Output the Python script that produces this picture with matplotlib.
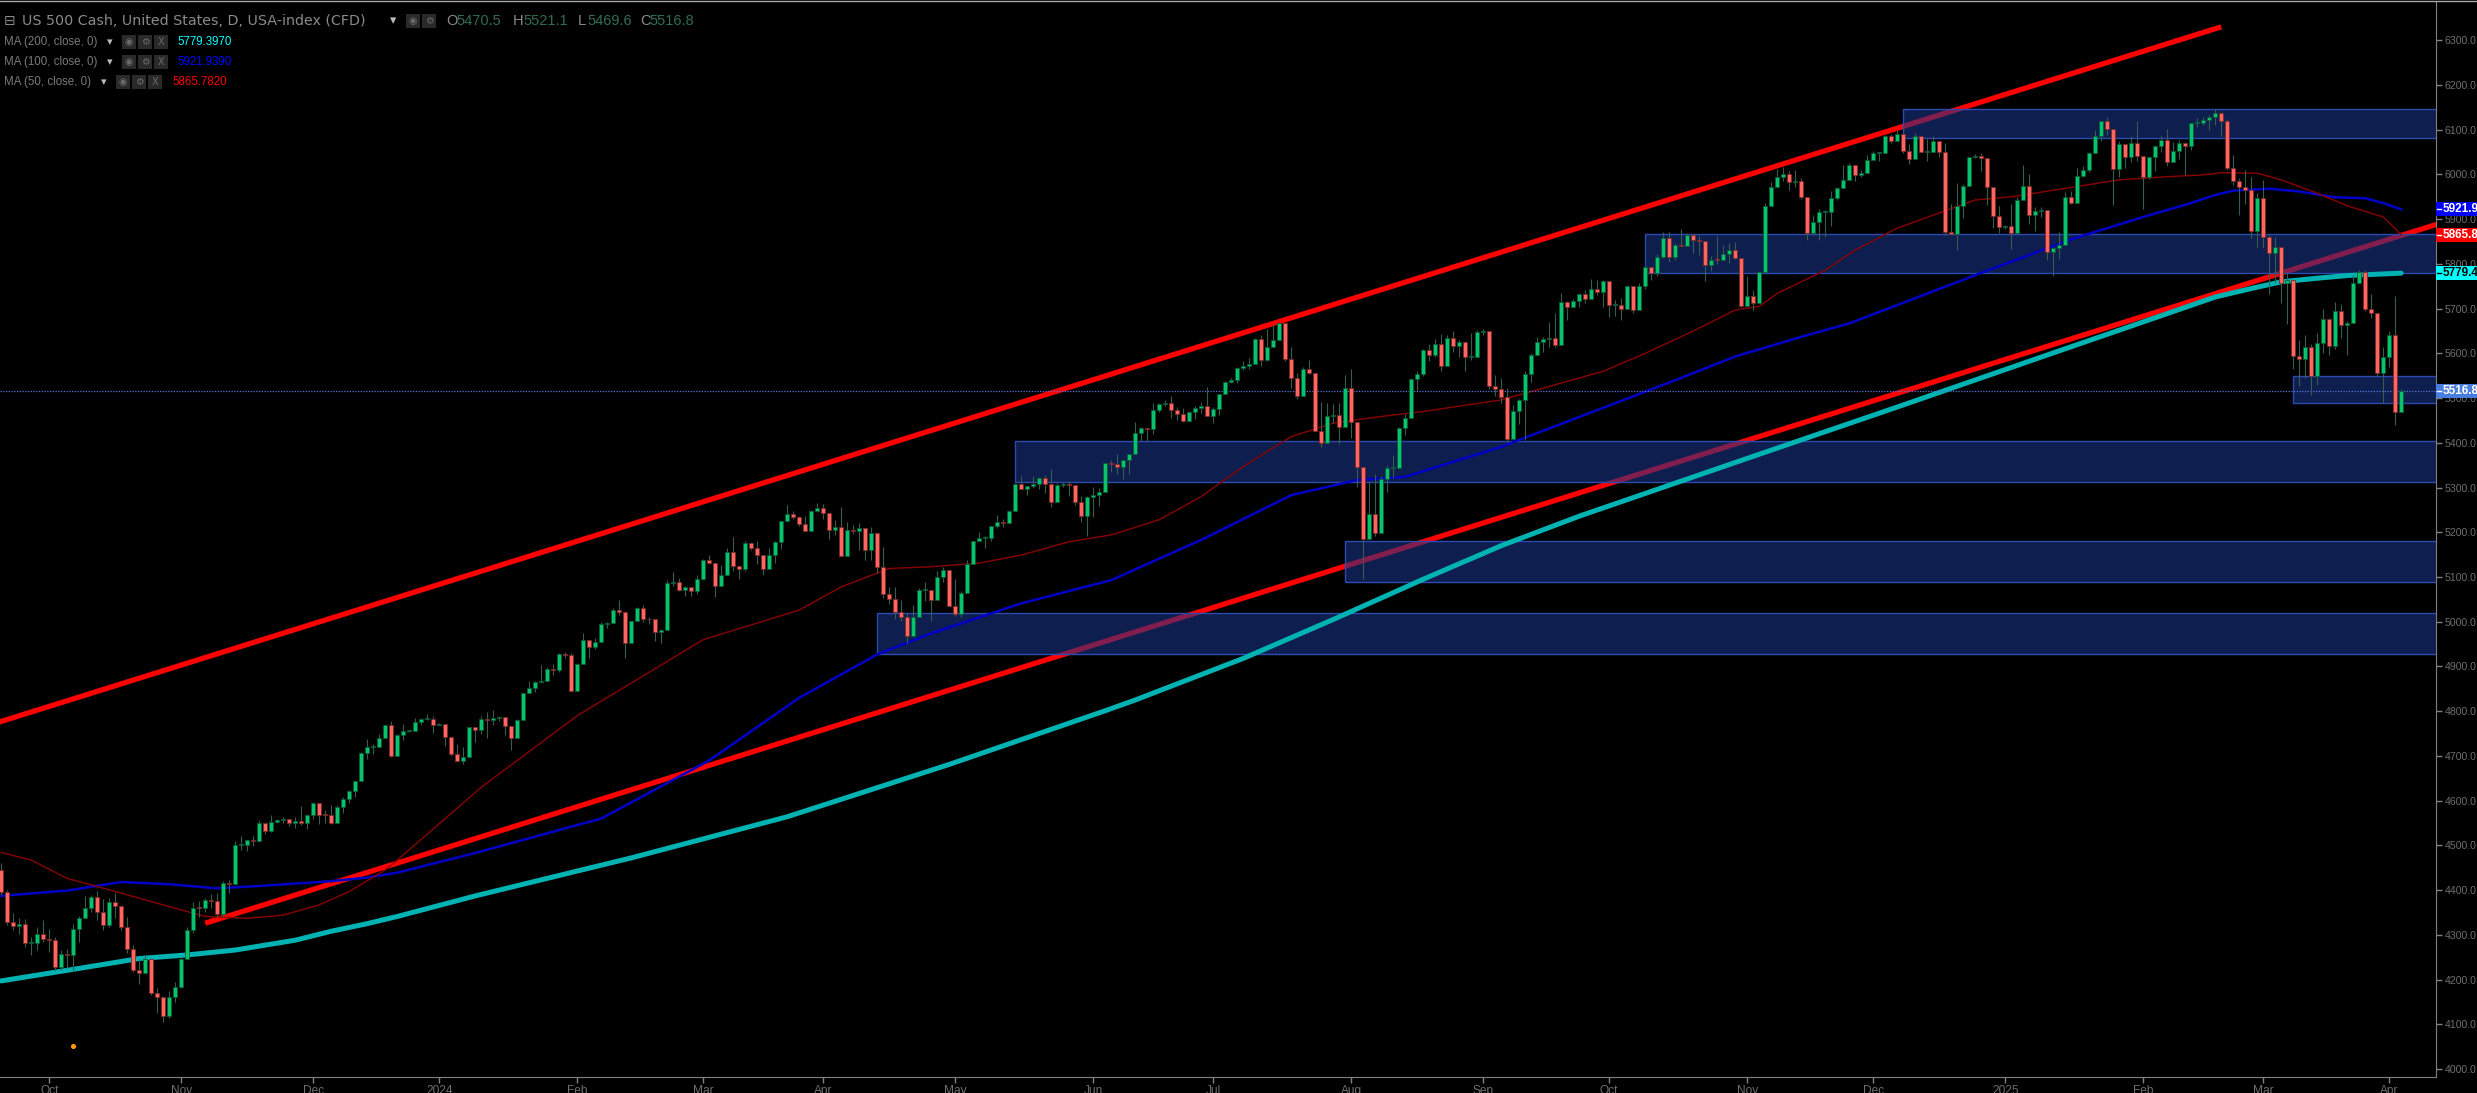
import numpy as np
import pandas as pd
import matplotlib
matplotlib.use('Agg')
import matplotlib.pyplot as plt
from matplotlib.patches import Rectangle
from matplotlib.lines import Line2D
import matplotlib.transforms as mtransforms

plt.rcParams['font.family'] = ['Liberation Sans', 'DejaVu Sans']

# daily bars as (close, high, low); each open is the previous close
first_open = 4446
sep23 = [(4395, 4461, 4390), (4328, 4400, 4322), (4320, 4348, 4310), (4325, 4337, 4302),
         (4281, 4336, 4272), (4281, 4294, 4255), (4301, 4318, 4266), (4290, 4333, 4285)]
oct23 = [(4288, 4313, 4262), (4229, 4295, 4220), (4256, 4265, 4222), (4255, 4268, 4226),
         (4313, 4324, 4220), (4337, 4341, 4283), (4359, 4386, 4338), (4385, 4388, 4352),
         (4352, 4398, 4333), (4321, 4379, 4310), (4373, 4383, 4317), (4364, 4394, 4338),
         (4317, 4367, 4310), (4269, 4340, 4260), (4221, 4277, 4217), (4215, 4245, 4189),
         (4245, 4255, 4213), (4169, 4236, 4166), (4160, 4180, 4125), (4118, 4155, 4105),
         (4162, 4175, 4115), (4183, 4194, 4150)]
nov23 = [(4247, 4250, 4180), (4310, 4318, 4245), (4361, 4374, 4305), (4359, 4375, 4340),
         (4377, 4383, 4352), (4375, 4392, 4360), (4346, 4394, 4340), (4415, 4420, 4340),
         (4413, 4423, 4393), (4500, 4510, 4440), (4500, 4522, 4490), (4511, 4513, 4487),
         (4509, 4522, 4498), (4549, 4557, 4507), (4533, 4550, 4525), (4553, 4568, 4530),
         (4556, 4560, 4550), (4559, 4563, 4550), (4550, 4558, 4543), (4555, 4563, 4538),
         (4551, 4588, 4546), (4568, 4571, 4536)]
dec23 = [(4595, 4598, 4560), (4569, 4575, 4547), (4567, 4579, 4551), (4550, 4591, 4547),
         (4586, 4590, 4563), (4604, 4609, 4572), (4622, 4623, 4594), (4644, 4646, 4609),
         (4707, 4709, 4643), (4719, 4738, 4694), (4719, 4726, 4705), (4740, 4748, 4720),
         (4768, 4769, 4743), (4699, 4778, 4697), (4746, 4748, 4717), (4755, 4772, 4736),
         (4756, 4758, 4753), (4775, 4784, 4758), (4782, 4785, 4768), (4783, 4793, 4780),
         (4770, 4789, 4751)]
jan24 = [(4771, 4773, 4768), (4743, 4754, 4722), (4705, 4729, 4700), (4689, 4726, 4687),
         (4697, 4721, 4683), (4764, 4765, 4700), (4757, 4765, 4731), (4783, 4790, 4750),
         (4780, 4798, 4740), (4784, 4802, 4769), (4786, 4790, 4778), (4766, 4782, 4747),
         (4739, 4744, 4714), (4781, 4783, 4747), (4840, 4842, 4785), (4851, 4868, 4844),
         (4865, 4867, 4842), (4868, 4903, 4865), (4894, 4898, 4870), (4891, 4906, 4882),
         (4928, 4929, 4887), (4925, 4932, 4918), (4846, 4931, 4845)]
feb24 = [(4906, 4907, 4845), (4959, 4975, 4907), (4943, 4957, 4918), (4954, 4964, 4939),
         (4995, 4999, 4969), (4998, 5000, 4987), (5027, 5030, 4998), (5022, 5048, 5016),
         (4953, 4970, 4920), (5001, 5002, 4963), (5030, 5033, 5004), (5006, 5038, 4999),
         (5005, 5010, 4995), (4976, 4993, 4956), (4982, 4983, 4953), (5087, 5094, 5038),
         (5089, 5111, 5081), (5070, 5097, 5068), (5078, 5080, 5057), (5069, 5077, 5058),
         (5096, 5104, 5061)]
mar24 = [(5137, 5141, 5094), (5131, 5149, 5128), (5079, 5127, 5056), (5105, 5127, 5094),
         (5157, 5165, 5128), (5124, 5190, 5114), (5117, 5125, 5095), (5175, 5180, 5114),
         (5165, 5179, 5160), (5150, 5180, 5130), (5117, 5136, 5104), (5149, 5164, 5143),
         (5179, 5180, 5131), (5225, 5225, 5162), (5241, 5261, 5240), (5234, 5247, 5229),
         (5218, 5236, 5215), (5203, 5236, 5202), (5248, 5249, 5213), (5254, 5265, 5246)]
apr24 = [(5243, 5264, 5229), (5205, 5209, 5184), (5211, 5228, 5194), (5147, 5256, 5146),
         (5204, 5222, 5157), (5202, 5216, 5197), (5209, 5220, 5160), (5161, 5178, 5138),
         (5199, 5211, 5139), (5123, 5175, 5108), (5061, 5168, 5052), (5051, 5077, 5039),
         (5022, 5077, 5007), (5011, 5049, 5001), (4967, 5019, 4953), (5010, 5038, 4969),
         (5070, 5076, 5027), (5072, 5089, 5047), (5048, 5057, 5001), (5100, 5114, 5073),
         (5116, 5123, 5088), (5036, 5111, 5035)]
may24 = [(5018, 5096, 5013), (5064, 5069, 5011), (5128, 5139, 5101), (5181, 5181, 5142),
         (5187, 5200, 5180), (5188, 5191, 5165), (5214, 5215, 5180), (5223, 5239, 5210),
         (5221, 5230, 5211), (5247, 5250, 5218), (5308, 5311, 5263), (5297, 5325, 5296),
         (5303, 5305, 5283), (5308, 5325, 5299), (5321, 5324, 5297), (5307, 5329, 5287),
         (5267, 5341, 5256), (5305, 5311, 5278), (5307, 5312, 5302), (5306, 5315, 5280),
         (5267, 5282, 5262), (5236, 5280, 5222), (5278, 5280, 5191)]
jun24 = [(5283, 5302, 5234), (5291, 5298, 5258), (5354, 5355, 5302), (5352, 5362, 5335),
         (5347, 5376, 5331), (5361, 5362, 5320), (5375, 5375, 5331), (5421, 5447, 5405),
         (5434, 5436, 5404), (5431, 5432, 5403), (5473, 5489, 5420), (5487, 5490, 5468),
         (5490, 5496, 5482), (5473, 5505, 5455), (5464, 5479, 5451), (5448, 5478, 5447),
         (5469, 5472, 5446), (5478, 5483, 5453), (5482, 5491, 5467), (5460, 5524, 5459)]
jul24 = [(5475, 5479, 5445), (5509, 5509, 5462), (5537, 5539, 5510), (5540, 5546, 5533),
         (5567, 5570, 5534), (5572, 5583, 5562), (5577, 5590, 5565), (5633, 5635, 5586),
         (5585, 5642, 5571), (5615, 5655, 5584), (5631, 5666, 5614), (5667, 5669, 5639),
         (5588, 5622, 5584), (5544, 5614, 5522), (5505, 5557, 5497), (5564, 5570, 5529),
         (5555, 5586, 5553), (5427, 5523, 5426), (5399, 5491, 5390), (5459, 5488, 5432),
         (5463, 5487, 5444), (5436, 5489, 5398), (5522, 5551, 5485)]
aug24 = [(5446, 5566, 5410), (5346, 5383, 5302), (5186, 5250, 5095), (5240, 5312, 5194),
         (5199, 5331, 5192), (5319, 5326, 5211), (5344, 5350, 5290), (5344, 5372, 5321),
         (5434, 5436, 5361), (5455, 5464, 5418), (5543, 5546, 5501), (5554, 5561, 5517),
         (5608, 5609, 5550), (5597, 5620, 5584), (5621, 5633, 5591), (5571, 5643, 5560),
         (5634, 5641, 5585), (5616, 5651, 5603), (5625, 5629, 5593), (5592, 5628, 5561),
         (5592, 5646, 5585), (5648, 5652, 5598)]
sep24 = [(5650, 5655, 5640), (5528, 5651, 5520), (5520, 5552, 5504), (5503, 5546, 5490),
         (5408, 5523, 5402), (5471, 5484, 5434), (5496, 5497, 5442), (5554, 5561, 5406),
         (5596, 5600, 5535), (5626, 5636, 5601), (5633, 5636, 5604), (5634, 5671, 5614),
         (5618, 5690, 5615), (5714, 5734, 5690), (5703, 5716, 5674), (5718, 5722, 5703),
         (5732, 5736, 5704), (5722, 5742, 5712), (5745, 5767, 5722), (5738, 5764, 5730),
         (5762, 5763, 5704)]
oct24 = [(5709, 5757, 5681), (5709, 5719, 5684), (5700, 5723, 5674), (5751, 5753, 5703),
         (5696, 5739, 5690), (5751, 5757, 5707), (5792, 5796, 5745), (5780, 5792, 5764),
         (5815, 5823, 5774), (5859, 5871, 5813), (5815, 5871, 5804), (5842, 5846, 5808),
         (5841, 5878, 5840), (5865, 5870, 5845), (5853, 5867, 5824), (5851, 5863, 5821),
         (5797, 5834, 5762), (5809, 5818, 5785), (5808, 5862, 5800), (5823, 5842, 5818),
         (5832, 5847, 5802), (5813, 5850, 5811), (5705, 5775, 5703)]
nov24 = [(5728, 5772, 5723), (5712, 5741, 5696), (5782, 5783, 5723), (5929, 5937, 5846),
         (5973, 5983, 5937), (5995, 6012, 5976), (6001, 6017, 5986), (5984, 6008, 5966),
         (5985, 6009, 5971), (5949, 5993, 5946), (5870, 5915, 5853), (5893, 5909, 5865),
         (5917, 5923, 5854), (5917, 5920, 5860), (5948, 5964, 5885), (5969, 5973, 5944),
         (5987, 6021, 5973), (6021, 6025, 5993), (5999, 6021, 5985), (6003, 6010, 5995),
         (6032, 6044, 6003)]
dec24 = [(6047, 6053, 6035), (6049, 6050, 6030), (6086, 6088, 6057), (6075, 6090, 6071),
         (6090, 6099, 6080), (6053, 6088, 6048), (6034, 6069, 6024), (6085, 6092, 6060),
         (6051, 6079, 6050), (6051, 6079, 6031), (6074, 6085, 6060), (6050, 6058, 6040),
         (5872, 6071, 5865), (5867, 5935, 5866), (5930, 5982, 5832), (5974, 5978, 5903),
         (6040, 6040, 5983), (6042, 6045, 6037), (6037, 6049, 6007), (5971, 6006, 5932),
         (5907, 5941, 5880), (5882, 5929, 5869)]
jan25 = [(5884, 5888, 5878), (5869, 5935, 5834), (5942, 5949, 5888), (5975, 6021, 5960),
         (5909, 6000, 5890), (5918, 5927, 5874), (5920, 5928, 5905), (5827, 5898, 5809),
         (5836, 5838, 5774), (5843, 5871, 5811), (5950, 5960, 5904), (5937, 5964, 5935),
         (5997, 6014, 5968), (6010, 6020, 5995), (6049, 6051, 6006), (6086, 6100, 6066),
         (6119, 6119, 6074), (6101, 6128, 6089), (6012, 6017, 5932), (6068, 6074, 5994),
         (6039, 6066, 6014), (6071, 6087, 6028), (6041, 6120, 6031)]
feb25 = [(5994, 6022, 5923), (6038, 6042, 5990), (6063, 6065, 6007), (6076, 6086, 6051),
         (6028, 6101, 6020), (6053, 6073, 6035), (6070, 6076, 6035), (6064, 6072, 5999),
         (6114, 6116, 6054), (6114, 6127, 6107), (6121, 6128, 6110), (6129, 6132, 6099),
         (6137, 6147, 6111), (6120, 6139, 6085), (6014, 6125, 6009), (5985, 6043, 5977),
         (5971, 5992, 5909), (5965, 6009, 5933), (5874, 5994, 5858), (5947, 5959, 5837)]
mar25 = [(5860, 5987, 5835), (5824, 5865, 5733), (5837, 5860, 5760), (5757, 5832, 5712),
         (5764, 5783, 5666), (5594, 5738, 5565), (5587, 5630, 5528), (5615, 5642, 5546),
         (5549, 5620, 5506), (5624, 5645, 5530), (5676, 5700, 5600), (5617, 5680, 5597),
         (5695, 5715, 5610), (5663, 5711, 5635), (5667, 5672, 5597), (5758, 5775, 5700),
         (5783, 5787, 5755), (5699, 5786, 5695), (5690, 5733, 5680), (5557, 5690, 5550),
         (5592, 5615, 5490)]
apr25 = [(5641, 5650, 5570), (5468, 5728, 5440), (5516.8, 5521.1, 5469.6)]

# moving averages (bar index, value)
ma200_idx = [0, 13, 23, 31, 39, 49, 55, 61, 66, 79, 105, 131, 158, 184, 189, 207, 222, 237,
             250, 263, 289, 316, 342, 358, 369, 375, 380, 386, 391, 400]
ma200_val = [4197, 4225, 4247, 4255, 4266, 4288, 4308, 4325, 4341, 4387, 4472, 4564, 4681,
             4801, 4825, 4918, 5005, 5095, 5170, 5236, 5356, 5480, 5601, 5675, 5726, 5745,
             5760, 5768, 5774, 5779.4]
ma100_idx = [0, 11, 20, 28, 36, 44, 55, 61, 66, 79, 100, 118, 133, 146, 155, 170, 185, 200,
             215, 226, 234, 250, 279, 289, 300, 308, 316, 330, 345, 358, 364, 369, 372, 378,
             383, 389, 394, 397, 400]
ma100_val = [4387, 4399, 4418, 4413, 4404, 4410, 4420, 4428, 4439, 4483, 4560, 4690, 4830,
             4927, 4974, 5041, 5093, 5183, 5283, 5317, 5324, 5391, 5540, 5593, 5637, 5667,
             5708, 5780, 5855, 5909, 5932, 5954, 5964, 5968, 5962, 5949, 5947, 5936, 5921.9]
ma50_idx = [0, 5, 11, 16, 19, 28, 34, 41, 47, 53, 58, 64, 66, 80, 96, 117, 133, 140, 148,
            155, 163, 170, 178, 185, 193, 200, 207, 215, 222, 230, 237, 250, 267, 274, 282,
            289, 293, 296, 304, 309, 316, 329, 335, 344, 353, 361, 367, 370, 376, 380, 386,
            391, 397, 400]
ma50_val = [4484, 4467, 4426, 4408, 4397, 4363, 4341, 4337, 4344, 4367, 4397, 4445, 4467,
            4630, 4790, 4960, 5026, 5078, 5119, 5123, 5131, 5149, 5179, 5194, 5228, 5280,
            5347, 5414, 5444, 5459, 5470, 5496, 5560, 5600, 5650, 5697, 5705, 5734, 5786,
            5831, 5880, 5943, 5950, 5969, 5988, 5995, 5999, 6004, 6003, 5988, 5958, 5930,
            5905, 5865.8]

# drawn objects: channel lines and support/resistance zones
upper_x, upper_y = [-1, 370], [4773, 6330]
lower_x, lower_y = [34, 407], [4326, 5893]
zone_left = [317, 274, 169, 224, 146, 382]
zone_top = [6146, 5868, 5403, 5180, 5019, 5550]
zone_bottom = [6081, 5780, 5312, 5088, 4927, 5488]
last_price = 5516.8
event_bar = 12

bars = sep23 + oct23 + nov23 + dec23 + jan24 + feb24 + mar24 + apr24 + may24 + jun24 + \
    jul24 + aug24 + sep24 + oct24 + nov24 + dec24 + jan25 + feb25 + mar25 + apr25
close = np.array([b[0] for b in bars], dtype=float)
high = np.array([b[1] for b in bars], dtype=float)
low = np.array([b[2] for b in bars], dtype=float)
opn = np.r_[first_open, close[:-1]]
x = np.arange(len(bars))

dates = pd.bdate_range('2023-09-20', '2025-04-03')
dates = dates[dates != pd.Timestamp('2024-03-29')][:len(bars)]

W, H = 2477, 1093
fig = plt.figure(figsize=(W / 100, H / 100), dpi=100, facecolor='black')
ax = fig.add_axes([0, (H - 1077) / H, 2436 / W, 1075 / H], facecolor='black')
ax.set_xlim(-0.217, 405.8)
ax.set_ylim(3982.1, 6385.6)

# channel lines (under the zones)
for lx, ly in [(upper_x, upper_y), (lower_x, lower_y)]:
    ax.plot(lx, ly, color='#ff0000', lw=3.8, solid_capstyle='butt', zorder=2)

for left, top, bot in zip(zone_left, zone_top, zone_bottom):
    ax.add_patch(Rectangle((left, bot), 420 - left, top - bot, facecolor=(27/255, 56/255, 144/255),
                           alpha=0.55, edgecolor='none', zorder=3))
    ax.add_patch(Rectangle((left, bot), 420 - left, top - bot, facecolor='none',
                           edgecolor='#2b4bb0', lw=1.0, zorder=3.1))

ax.plot(ma200_idx, ma200_val, color='#00b3b3', lw=3.6, zorder=4, solid_capstyle='round',
        solid_joinstyle='round')
ax.plot(ma100_idx, ma100_val, color='#0000c8', lw=1.8, zorder=4, solid_joinstyle='round')
ax.plot(ma50_idx, ma50_val, color='#8b0000', lw=1.0, zorder=4)

ax.axhline(last_price, color='#5577dd', lw=0.9, ls=(0, (1, 1.2)), zorder=4.5)

# candles
up = close >= opn
ax.vlines(x, low, high, color='#355e4c', lw=0.8, zorder=5)
body_lo = np.minimum(opn, close)
body_h = np.maximum(np.abs(close - opn), 2.2)
ax.bar(x[up], body_h[up], bottom=body_lo[up], width=0.68, color='#07c46c',
       edgecolor='#0b5a37', lw=0.6, zorder=6)
ax.bar(x[~up], body_h[~up], bottom=body_lo[~up], width=0.68, color='#ff665f',
       edgecolor='#7a2a28', lw=0.6, zorder=6)

# event marker at the bottom
ax.scatter([event_bar], [0.029], s=7, color='#ff9a00', zorder=6,
           transform=mtransforms.blended_transform_factory(ax.transData, ax.transAxes))

# axes styling
for s in ['top', 'left']:
    ax.spines[s].set_visible(False)
ax.spines['right'].set_color('#808080')
ax.spines['bottom'].set_color('#808080')
ax.yaxis.tick_right()
yt = np.arange(4000, 6301, 100)
ax.set_yticks(yt)
ax.set_yticklabels([f'{v:.1f}' for v in yt])
ax.tick_params(axis='y', colors='#808080', labelcolor='#6e6e6e', length=4, width=1,
               labelsize=7.6, pad=2)

month_first = [i for i in range(1, len(dates)) if dates[i].month != dates[i - 1].month]
month_lab = [str(dates[i].year) if dates[i].month == 1 else dates[i].strftime('%b')
             for i in month_first]
ax.set_xticks(month_first)
ax.set_xticklabels(month_lab)
ax.tick_params(axis='x', colors='#808080', labelcolor='#6e6e6e', length=4, width=1,
               labelsize=8.6, pad=2)


def fx(px):
    return px / W


def fy(py):
    return 1 - py / H


def ypix(p):
    return 40.3 + (6300 - p) * 0.44726


# price boxes on the right axis
for val, face, tc in [(5921.9, '#0000ff', 'white'), (5865.8, '#ff0000', 'white'),
                      (5779.4, '#00ffff', 'black'), (last_price, '#4a7de0', 'white')]:
    yp = ypix(val)
    fig.add_artist(Rectangle((fx(2436), fy(yp + 7)), 42 / W, 14 / H, transform=fig.transFigure,
                             facecolor=face, edgecolor='none', zorder=20))
    fig.add_artist(Line2D([fx(2437), fx(2441)], [fy(yp)] * 2, color=tc, lw=1, zorder=21))
    fig.text(fx(2442.5), fy(yp), f'{val:.1f}', color=tc, fontsize=8.5, fontweight='bold',
             va='center', ha='left', zorder=22)

# top border
fig.add_artist(Line2D([0, 1], [fy(0.7)] * 2, color='#a8a8a8', lw=1.0))


def icons(x0, y0, glyphs):
    for k, g in enumerate(glyphs):
        fig.add_artist(Rectangle((fx(x0 + 16 * k), fy(y0 + 7)), 14 / W, 14 / H,
                                 transform=fig.transFigure, facecolor='#2a2a2a',
                                 edgecolor='none', zorder=20))
        fig.text(fx(x0 + 16 * k + 7), fy(y0), g, color='#6a6a6a', fontsize=7,
                 ha='center', va='center', zorder=21,
                 family=['DejaVu Sans'])


gray = '#8a8a8a'
fig.text(fx(4), fy(20.7), '⊟', color=gray, fontsize=10, va='center', family=['DejaVu Sans'])
fig.text(fx(22), fy(20.7), 'US 500 Cash, United States, D, USA-index (CFD)', color=gray,
         fontsize=10.3, va='center', family=['DejaVu Sans'])
fig.text(fx(390), fy(20.7), '▾', color='#bbbbbb', fontsize=9, va='center',
         family=['DejaVu Sans'])
icons(406, 20.7, ['◉', '⚙'])
for lx, lab, vx, val in [(446, 'O', 456, '5470.5'), (513, 'H', 523, '5521.1'),
                         (578, 'L', 587, '5469.6'), (640, 'C', 649, '5516.8')]:
    fig.text(fx(lx), fy(20.7), lab, color=gray, fontsize=10.5, va='center')
    fig.text(fx(vx), fy(20.7), val, color='#2f6e50', fontsize=10.5, va='center')

for yy, lab, arr_x, ic_x, vx, val, col in [
        (41.7, 'MA (200, close, 0)', 107, 122, 177.5, '5779.3970', '#00ffff'),
        (61.7, 'MA (100, close, 0)', 107, 122, 177.5, '5921.9390', '#0000ff'),
        (81.7, 'MA (50, close, 0)', 101, 116, 172, '5865.7820', '#ff0000')]:
    fig.text(fx(4), fy(yy), lab, color='#7a7a7a', fontsize=8.3, va='center')
    fig.text(fx(arr_x), fy(yy), '▾', color='#bbbbbb', fontsize=8, va='center',
             family=['DejaVu Sans'])
    icons(ic_x, yy, ['◉', '⚙', 'X'])
    fig.text(fx(vx), fy(yy), val, color=col, fontsize=8.3, va='center')

fig.savefig('out.png', dpi=100, facecolor='black')
